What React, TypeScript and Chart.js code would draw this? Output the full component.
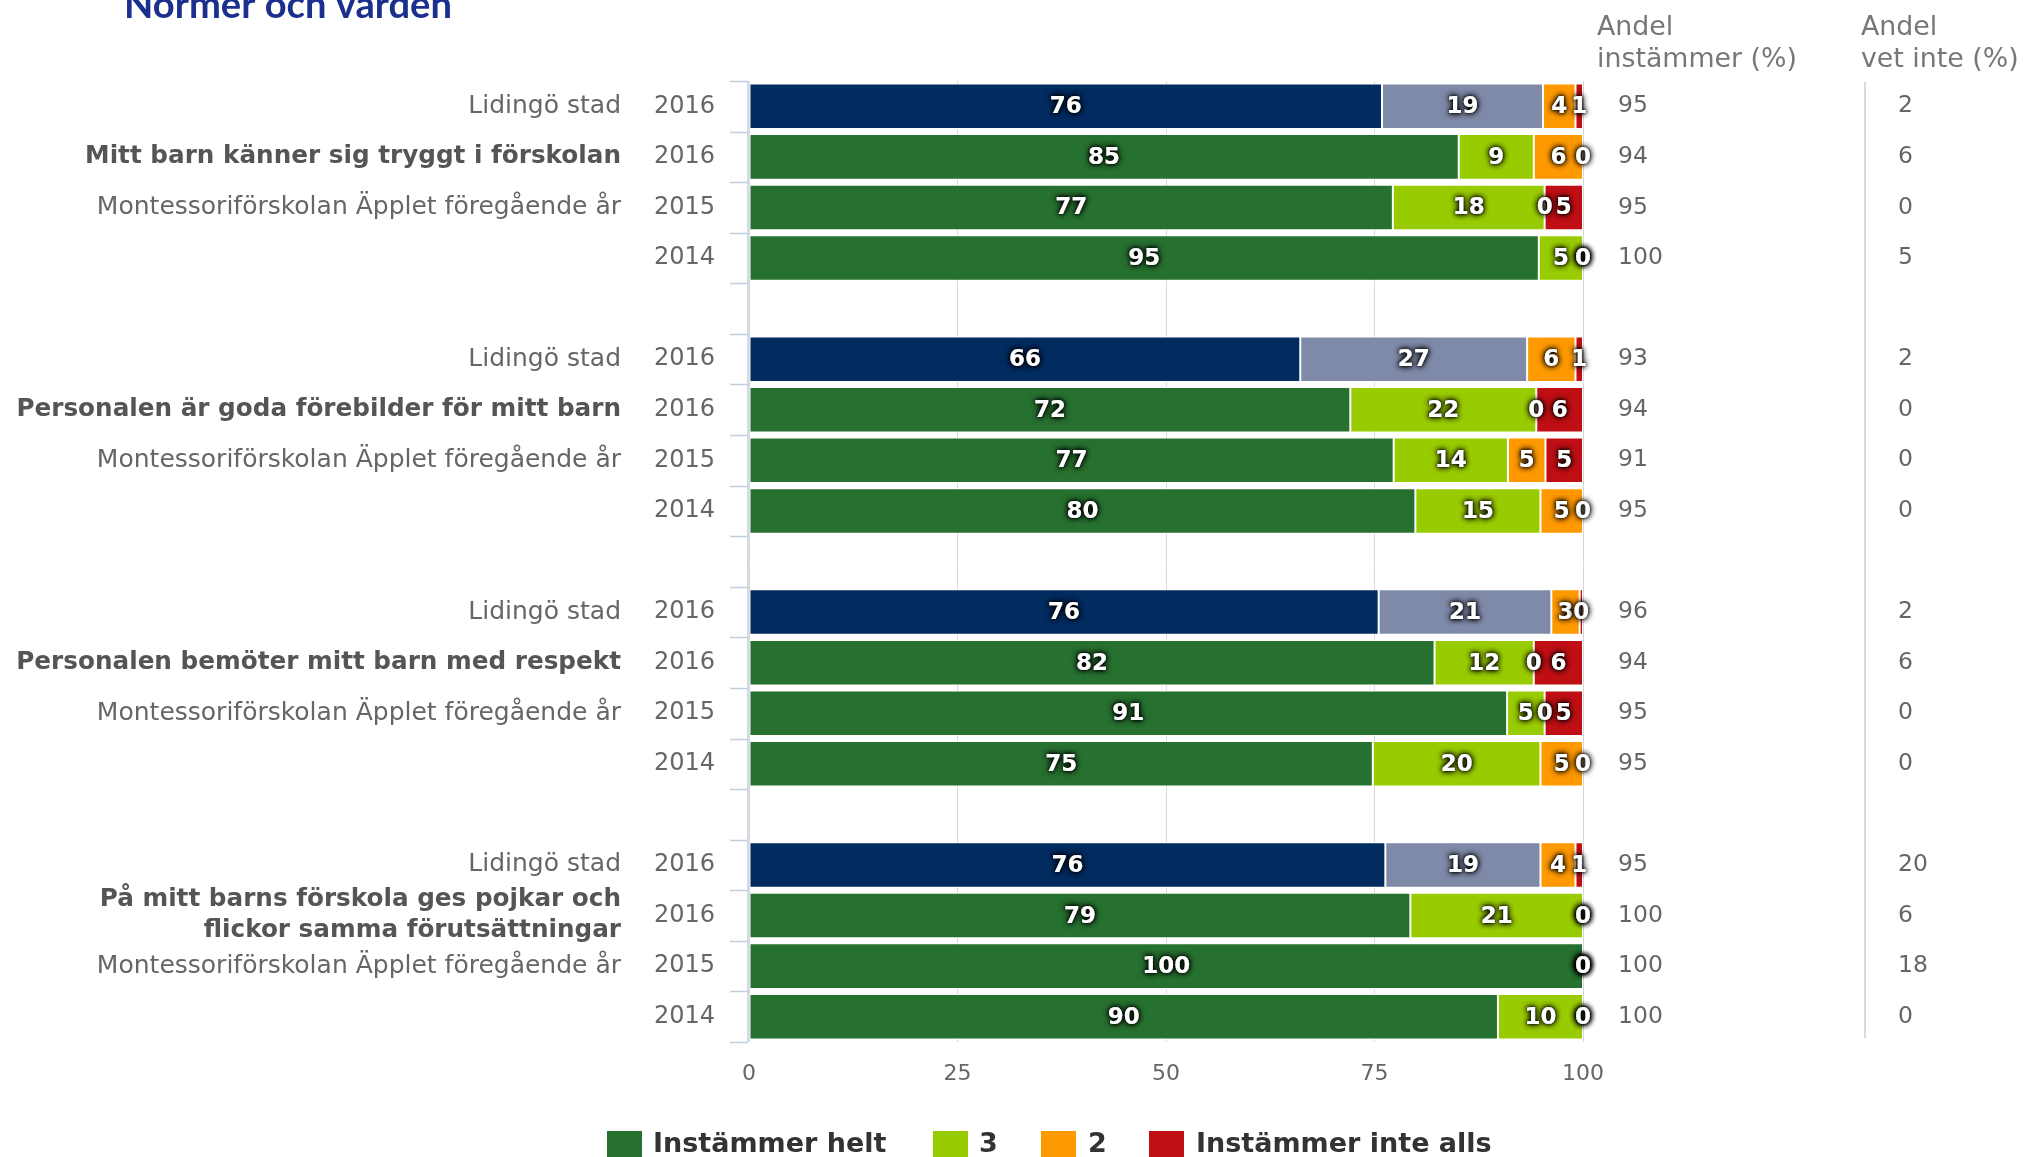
import React, { useEffect, useRef } from "react";
import { Chart, registerables } from "chart.js";

Chart.register(...registerables);

// ---- data ----
const groupLabels = [
  "Lidingö stad", "Mitt barn känner sig tryggt i förskolan", "Montessoriförskolan Äpplet föregående år", "", "",
  "Lidingö stad", "Personalen är goda förebilder för mitt barn", "Montessoriförskolan Äpplet föregående år", "", "",
  "Lidingö stad", "Personalen bemöter mitt barn med respekt", "Montessoriförskolan Äpplet föregående år", "", "",
  "Lidingö stad", "På mitt barns förskola ges pojkar och\nflickor samma förutsättningar", "Montessoriförskolan Äpplet föregående år", "",
];
const yearLabels = [
  "2016", "2016", "2015", "2014", "",
  "2016", "2016", "2015", "2014", "",
  "2016", "2016", "2015", "2014", "",
  "2016", "2016", "2015", "2014",
];
const instammerHelt = [75.9, 85.1, 77.2, 94.7, null, 66.1, 72.1, 77.3, 79.9, null, 75.5, 82.2, 90.9, 74.8, null, 76.3, 79.3, 100, 89.8];
const tre = [19.3, 9, 18.2, 5.3, null, 27.2, 22.3, 13.7, 15, null, 20.7, 11.9, 4.5, 20.1, null, 18.6, 20.7, 0, 10.2];
const tva = [3.9, 5.9, 0, 0, null, 5.8, 0, 4.5, 5.1, null, 3.4, 0, 0, 5.1, null, 4.2, 0, 0, 0];
const instammerInteAlls = [0.9, 0, 4.6, 0, null, 0.9, 5.6, 4.5, 0, null, 0.4, 5.9, 4.6, 0, null, 0.9, 0, 0, 0];
const andelInstammer = [95, 94, 95, 100, null, 93, 94, 91, 95, null, 96, 94, 95, 95, null, 95, 100, 100, 100];
const andelVetInte = [2, 6, 0, 5, null, 2, 0, 0, 0, null, 2, 6, 0, 0, null, 20, 6, 18, 0];
const seriesNames = ["Instämmer helt", "3", "2", "Instämmer inte alls"];
const xTicks = [0, 25, 50, 75, 100];

const COLORS = ["#277130", "#99CC00", "#FF9900", "#C00F14"];
const CITY_COLORS = ["#022B60", "#7F8AA8", "#FF9900", "#C00F14"];
const FONT = "'DejaVu Sans', sans-serif";

const isCity = (i: number) => groupLabels[i] === "Lidingö stad";
const isQuestion = (i: number) => i % 5 === 1;

const overlayPlugin = {
  id: "overlay",
  afterDraw(chart: any) {
    const ctx = chart.ctx as CanvasRenderingContext2D;
    const area = chart.chartArea;
    const yScale = chart.scales.y;
    const n = groupLabels.length;
    const slot = (area.bottom - area.top) / n;
    ctx.save();

    // title
    ctx.fillStyle = "#1B2F8E";
    ctx.textAlign = "left";
    ctx.textBaseline = "alphabetic";
    let ts = 38;
    ctx.font = `bold ${ts}px Lato, sans-serif`;
    const tw = ctx.measureText("Normer och värden").width;
    ts = ts * 328 / tw;
    ctx.font = `bold ${ts}px Lato, sans-serif`;
    ctx.fillText("Normer och värden", 124, 18);

    // axis line & ticks
    ctx.strokeStyle = "#C0D0E0";
    ctx.lineWidth = 1.5;
    ctx.beginPath();
    ctx.moveTo(area.left - 1, area.top);
    ctx.lineTo(area.left - 1, area.bottom);
    for (let k = 0; k <= n; k++) {
      const y = Math.round(area.top + k * slot) + 0.5;
      ctx.moveTo(730, y);
      ctx.lineTo(area.left - 1, y);
    }
    ctx.stroke();

    // separator
    ctx.lineWidth = 1.5;
    ctx.beginPath();
    ctx.moveTo(1865, 82);
    ctx.lineTo(1865, 1038);
    ctx.stroke();

    // headers
    ctx.fillStyle = "#777";
    ctx.font = `26.8px ${FONT}`;
    ctx.textBaseline = "middle";
    ctx.textAlign = "left";
    ctx.fillText("Andel", 1597, 28);
    ctx.fillText("instämmer (%)", 1597, 60);
    ctx.fillText("Andel", 1861, 28);
    ctx.fillText("vet inte (%)", 1861, 60);

    // category labels and right columns
    for (let i = 0; i < n; i++) {
      const y = yScale.getPixelForValue(i);
      ctx.textAlign = "right";
      if (yearLabels[i]) {
        ctx.fillStyle = "#666";
        ctx.font = `24px ${FONT}`;
        ctx.fillText(yearLabels[i], 715, y);
      }
      if (groupLabels[i]) {
        const bold = isQuestion(i);
        ctx.fillStyle = bold ? "#555" : "#666";
        ctx.font = bold ? `bold 24.7px ${FONT}` : `25px ${FONT}`;
        const lines = groupLabels[i].split("\n");
        const lh = 31;
        lines.forEach((l, j) => {
          ctx.fillText(l, 621, y + (j - (lines.length - 1) / 2) * lh);
        });
      }
      ctx.textAlign = "left";
      ctx.fillStyle = "#666";
      ctx.font = `23.5px ${FONT}`;
      if (andelInstammer[i] !== null) ctx.fillText(String(andelInstammer[i]), 1618, y);
      if (andelVetInte[i] !== null) ctx.fillText(String(andelVetInte[i]), 1898, y);
    }

    // data labels
    ctx.textAlign = "center";
    ctx.textBaseline = "middle";
    ctx.font = `bold 23px ${FONT}`;
    chart.data.datasets.forEach((ds: any, di: number) => {
      const meta = chart.getDatasetMeta(di);
      meta.data.forEach((el: any, i: number) => {
        const v = ds.data[i];
        if (v === null || v === undefined) return;
        const x = (el.x + el.base) / 2;
        const txt = String(Math.round(v));
        ctx.save();
        ctx.fillStyle = "#fff";
        ctx.shadowColor = "rgba(0,0,0,0.95)";
        ctx.shadowBlur = 6;
        ctx.fillText(txt, x, el.y + 1);
        ctx.fillText(txt, x, el.y + 1);
        ctx.shadowBlur = 3;
        ctx.fillText(txt, x, el.y + 1);
        ctx.restore();
      });
    });

    // legend
    const items = [
      { box: 607, text: 653 },
      { box: 933, text: 979 },
      { box: 1041, text: 1088 },
      { box: 1149, text: 1196 },
    ];
    ctx.font = `bold 27px ${FONT}`;
    ctx.textAlign = "left";
    ctx.textBaseline = "middle";
    seriesNames.forEach((name, k) => {
      ctx.fillStyle = COLORS[k];
      ctx.fillRect(items[k].box, 1131, 35, 27);
      ctx.fillStyle = "#333";
      ctx.fillText(name, items[k].text, 1145);
    });

    ctx.restore();
  },
};

export default function App() {
  const ref = useRef<HTMLCanvasElement>(null);
  useEffect(() => {
    if (!ref.current) return;
    const series = [instammerHelt, tre, tva, instammerInteAlls];
    const chart = new Chart(ref.current, {
      type: "bar",
      data: {
        labels: groupLabels.map((g, i) => `${g} ${yearLabels[i]}`),
        datasets: series.map((data, k) => ({
          label: seriesNames[k],
          data,
          backgroundColor: data.map((_, i) => (isCity(i) ? CITY_COLORS[k] : COLORS[k])),
          borderColor: "#ffffff",
          borderWidth: 1,
          borderSkipped: false,
          categoryPercentage: 1,
          barPercentage: 0.9,
        })),
      },
      options: {
        indexAxis: "y",
        animation: false,
        responsive: false,
        devicePixelRatio: 1,
        layout: { padding: { left: 749, right: 442, top: 81, bottom: 65 } },
        plugins: { legend: { display: false }, tooltip: { enabled: false }, title: { display: false } },
        scales: {
          x: {
            stacked: true,
            min: 0,
            max: 100,
            afterBuildTicks: (axis: any) => {
              axis.ticks = xTicks.map((v) => ({ value: v }));
            },
            afterFit: (axis: any) => {
              axis.height = 50;
            },
            grid: { color: "#D8D8D8", lineWidth: 1, drawTicks: false },
            border: { display: false },
            ticks: { padding: 19, color: "#666", font: { family: FONT, size: 22 } },
          },
          y: {
            stacked: true,
            display: false,
          },
        },
      },
      plugins: [overlayPlugin],
    });
    return () => chart.destroy();
  }, []);
  return (
    <div style={{ position: "absolute", left: 0, top: 0, width: 2025, height: 1157, background: "#fff" }}>
      <canvas ref={ref} width={2025} height={1157} style={{ width: 2025, height: 1157, display: "block" }} />
    </div>
  );
}
